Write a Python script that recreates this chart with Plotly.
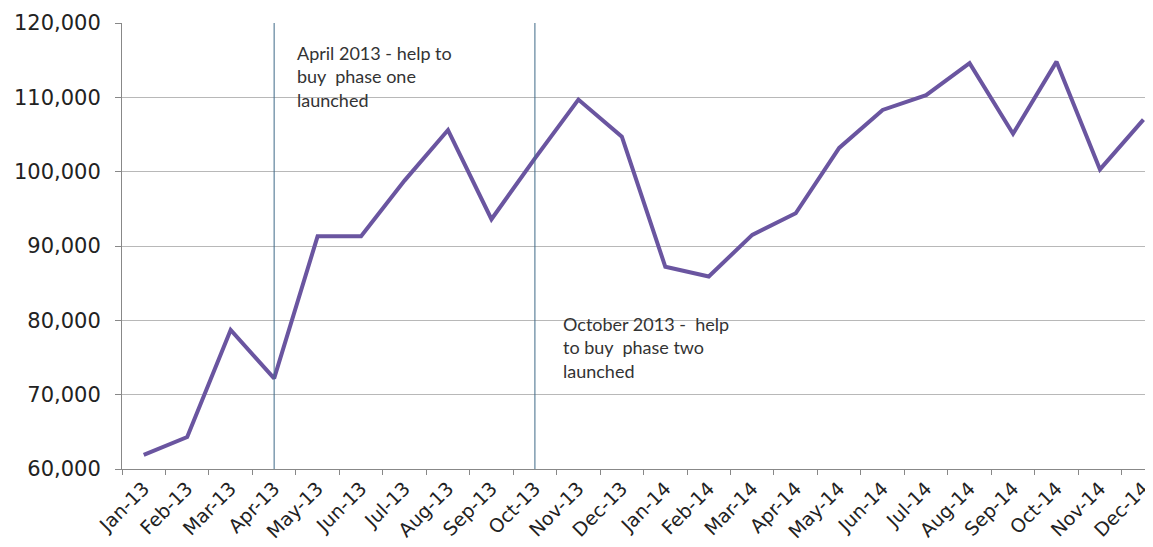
import plotly.graph_objects as go

months = ["Jan-13", "Feb-13", "Mar-13", "Apr-13", "May-13", "Jun-13", "Jul-13", "Aug-13",
          "Sep-13", "Oct-13", "Nov-13", "Dec-13", "Jan-14", "Feb-14", "Mar-14", "Apr-14",
          "May-14", "Jun-14", "Jul-14", "Aug-14", "Sep-14", "Oct-14", "Nov-14", "Dec-14"]
values = [61900, 64300, 78700, 72200, 91300, 91300, 98800, 105600,
          93600, 101800, 109700, 104700, 87200, 85900, 91500, 94400,
          103200, 108300, 110300, 114600, 105100, 114800, 100300, 107000]
y_ticks = [60000, 70000, 80000, 90000, 100000, 110000, 120000]
event_months = ["Apr-13", "Oct-13"]
event_texts = ["April 2013 - help to<br>buy  phase one<br>launched",
               "October 2013 -  help<br>to buy  phase two<br>launched"]

fig = go.Figure()
fig.add_trace(go.Scatter(x=months, y=values, mode="lines",
                         line=dict(color="#6a55a0", width=4), showlegend=False))

for m in event_months:
    fig.add_shape(type="line", xref="x", yref="y", x0=m, x1=m, y0=60000, y1=120000,
                  line=dict(color="#3f6a88", width=1))

ann_pos = [(3.48, 117700), (9.6, 81200)]
for (ax, ay), t in zip(ann_pos, event_texts):
    fig.add_annotation(x=ax, y=ay, xref="x", yref="y", text=t, showarrow=False,
                       xanchor="left", yanchor="top", align="left",
                       font=dict(family="Lato", size=18, color="#333333"))

fig.update_layout(
    width=1145, height=539,
    margin=dict(l=114, r=0, t=15, b=78),
    paper_bgcolor="white", plot_bgcolor="white",
    xaxis=dict(type="category", range=[-0.5, 23.22], tickson="boundaries",
               ticks="outside", ticklen=5, tickcolor="#888888",
               showline=True, linecolor="#888888", linewidth=1,
               showgrid=False, tickangle=-45,
               tickfont=dict(family="DejaVu Sans", size=19, color="#222222")),
    yaxis=dict(range=[60000, 120000], tickvals=y_ticks, tickformat=",d",
               ticks="outside", ticklen=6, tickcolor="#888888",
               showline=True, linecolor="#888888", linewidth=1,
               showgrid=True, gridcolor="#b8b8b8", gridwidth=1,
               zeroline=False, ticklabelstandoff=10,
               tickfont=dict(family="DejaVu Sans", size=21, color="#222222")),
)

fig.write_html("out.html")
